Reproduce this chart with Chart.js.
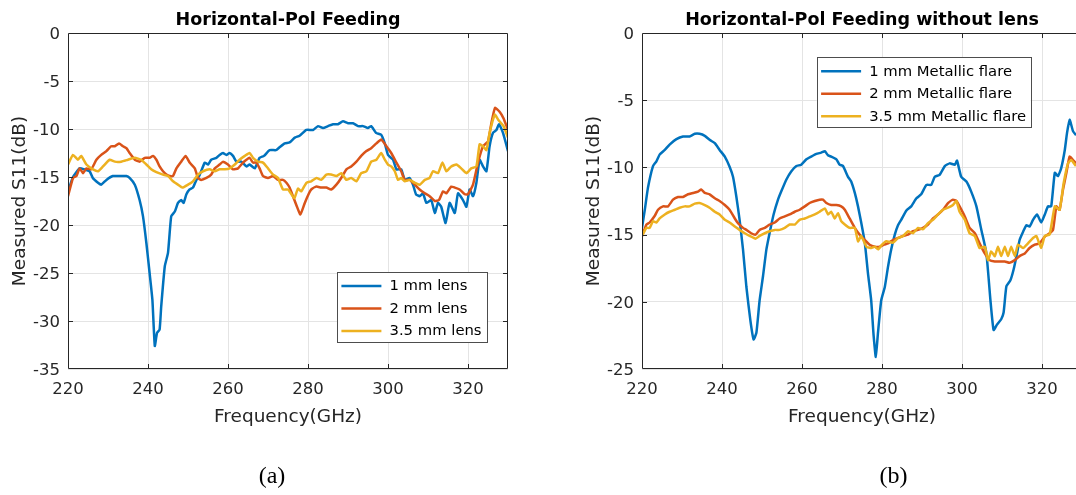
<!DOCTYPE html>
<html><head><meta charset="utf-8">
<script src="https://cdn.jsdelivr.net/npm/chart.js@4.4.0/dist/chart.umd.min.js"></script>
<style>
html,body{margin:0;padding:0;background:#fff;overflow:hidden;width:1076px;height:495px;position:relative;}
canvas{position:absolute;top:0;}
#c1{left:0;} #c2{left:540px;}
</style></head><body>
<canvas id="c1" width="540" height="495"></canvas>
<canvas id="c2" width="560" height="495"></canvas>
<script>
// ---------- tick labels ----------
const freqTicks = [220, 240, 260, 280, 300, 320];
const s11TicksA = [0, -5, -10, -15, -20, -25, -30, -35];
const s11TicksB = [0, -5, -10, -15, -20, -25];

// ---------- legends / titles ----------
const legendA = ['1 mm lens', '2 mm lens', '3.5 mm lens'];
const legendB = ['1 mm Metallic flare', '2 mm Metallic flare', '3.5 mm Metallic flare'];

// ---------- (a) Horizontal-Pol Feeding ----------
const fA1 = [220,221.25,222.9,224,225.4,226.2,227.5,228.3,229.6,231.2,232.9,234.6,235.4,236.7,237.9,238.75,239.6,240.4,241.1,241.7,242.25,242.9,243.3,244.2,245,245.8,246.7,247.5,248.3,248.9,249.6,250.4,251.25,252.1,252.9,254.2,255,255.8,257.1,257.9,258.75,259.6,260.4,261.25,262.1,263.3,264.6,265.4,266.7,267.9,269,270.4,272,272.9,274.2,275.4,276.7,277.9,279.6,281.25,282.5,283.75,285,286.25,287.5,288.75,290,291.25,292.5,293.75,295,295.8,297,298.3,299.2,300,301.25,302.1,303.3,304.2,305.4,306.25,307,307.9,308.75,309.6,310.8,311.7,312.5,313.3,314.4,315.4,316.7,317.5,318.75,319.6,320.4,321.25,322.1,322.9,323.75,324.6,325.4,326.25,327.1,327.75,328.75,330];
const sA1 = [-16.5,-15,-14.1,-14.2,-14.4,-15.1,-15.6,-15.8,-15.3,-14.9,-14.9,-14.9,-15.1,-15.8,-17.4,-19.1,-21.9,-25,-27.8,-32.6,-31.25,-30.9,-28.5,-24.3,-22.9,-19.1,-18.6,-17.7,-17.4,-17.7,-16.8,-16.3,-16.1,-15.3,-14.8,-13.5,-13.7,-13.2,-13,-12.7,-12.5,-12.7,-12.5,-12.8,-13.4,-13.4,-13.9,-13.7,-14.1,-13.0,-12.8,-12.2,-12.2,-11.9,-11.5,-11.4,-10.9,-10.7,-10.1,-10.1,-9.7,-9.9,-9.7,-9.5,-9.5,-9.2,-9.4,-9.4,-9.7,-9.7,-9.9,-9.7,-10.4,-10.6,-11.5,-12.7,-13.2,-14.2,-14.2,-15.3,-15.1,-15.8,-16.8,-17,-16.7,-17.7,-17.4,-18.75,-17.7,-18.1,-19.8,-17.7,-18.75,-16.7,-17.4,-18.1,-16.3,-17,-15.6,-13.2,-13.9,-14.4,-11.8,-10.4,-10.1,-9.5,-10.4,-12.3];

const fA2 = [220,221.25,222.1,222.9,223.75,224.6,225.8,227.1,228.3,229.6,230.8,231.7,232.75,233.75,234.6,235.4,236.7,237.9,239.2,240.4,241.25,242.1,242.9,243.75,244.6,245.4,246.25,247.1,248.3,249.4,250.4,251.7,252.5,253.3,254.6,255.8,256.7,257.9,258.75,260,261.25,262.5,263.75,264.6,265.4,266.25,267.1,267.9,268.75,270,271.25,272.5,273.75,274.6,275.4,276.25,277.25,278.1,279.2,280.25,280.8,282.1,283.3,284.6,285.8,287.1,288.3,289.6,290.8,292.1,293.3,294.6,295.8,297.1,298.3,299.6,300.8,302.1,303.3,304.2,305.4,306.7,307.9,309.2,310.4,311.7,312.75,313.75,314.6,315.8,316.7,317.9,319.2,320,321.25,322.5,323.75,325,325.8,326.75,327.9,328.9,330];
const sA2 = [-17,-15.1,-14.9,-14.1,-14.6,-14.1,-14.2,-13.2,-12.7,-12.3,-11.8,-11.8,-11.5,-11.8,-12,-12.5,-13.2,-13.4,-13,-13,-12.8,-13.2,-13.9,-14.4,-14.75,-14.9,-14.9,-14.1,-13.4,-12.8,-13.5,-14.1,-15.1,-15.3,-15.1,-14.75,-14.1,-13.7,-13.4,-13.7,-14.2,-14.1,-13.5,-13.2,-13,-13.5,-13.5,-14.1,-14.9,-15.1,-14.9,-15.3,-15.3,-15.6,-16.1,-17,-18.1,-18.9,-17.7,-16.7,-16.3,-16,-16.1,-16.1,-16.3,-15.8,-15.1,-14.2,-13.9,-13.4,-12.8,-12.3,-12,-11.5,-11.1,-11.8,-12.5,-13.5,-14.4,-15.3,-15.3,-15.8,-16.3,-16.7,-17,-17.5,-17.4,-16.5,-16.7,-16,-16.1,-16.3,-16.8,-16.8,-15.8,-13.5,-11.8,-11.3,-9.5,-7.8,-8.2,-8.9,-10.1];

const fA3 = [220,221.25,222.5,223.3,224.6,226.25,227.5,228.75,230.4,231.7,233.3,235,236.7,238.3,239.6,240.8,242.1,243.75,245,246.25,247.5,248.6,250,251.25,252.5,253.75,255.4,256.7,257.9,259.2,260.4,261.7,262.9,264.2,265.4,266.25,267.5,268.75,270,271.25,272.5,273.75,275,276,276.6,277.5,278.3,279.6,280.8,282.1,283.3,284.6,285.8,287.1,288.3,289.6,290.8,292.1,293.3,294.6,295.8,297.1,298.3,299.2,300,300.8,301.7,302.5,303.3,304.2,305.4,306.7,307.9,309.2,310.4,311.25,312.5,313.6,314.6,315.8,317.1,318.3,319.6,320.8,322.1,322.9,323.75,324.6,325.4,326.7,327.5,328.3,328.9,330];
const sA3 = [-13.7,-12.7,-13.2,-12.8,-13.7,-14.2,-14.4,-13.9,-13.2,-13.4,-13.4,-13.2,-13,-13.2,-13.7,-14.2,-14.5,-14.75,-14.9,-15.45,-15.8,-16.1,-15.8,-15.45,-14.75,-14.4,-14.2,-14.4,-14.2,-14.2,-14.1,-13.7,-13.2,-12.8,-12.5,-13,-13.4,-13.5,-14.1,-14.75,-15.1,-16.3,-16.3,-16.9,-17.2,-16.2,-16.5,-15.6,-15.45,-15.1,-15.3,-14.75,-14.75,-14.9,-14.6,-15.3,-15.1,-15.45,-14.6,-14.4,-13.4,-13.2,-12.5,-13.2,-13.7,-13.9,-14.4,-15.3,-15.1,-15.45,-15.3,-15.6,-15.8,-15.3,-15.1,-14.4,-14.6,-13.5,-14.4,-13.9,-13.7,-14.1,-14.6,-14.1,-13.9,-11.6,-11.8,-12.2,-10.4,-8.5,-9,-9.4,-9.7,-10.9];

// ---------- (b) Horizontal-Pol Feeding without lens ----------
const fB1 = [220,220.7,221.5,222.75,223.6,224.4,225.7,226.9,228.6,230.25,231.9,233.2,234.4,235.7,236.9,238.2,239.4,240.7,241.9,242.75,243.6,244.4,245.25,246.1,247.1,247.9,248.6,249.4,250.25,251.1,252.1,252.9,254,254.8,256.1,257.3,258.6,259.8,261.1,262.3,263.6,264.8,265.7,266.5,267.3,268.6,269.4,270.25,271.5,272.3,273.2,274,274.8,275.7,276.5,277.3,277.9,278.45,279,279.8,280.7,281.5,282.3,283.2,284,284.8,286.1,287.3,288.6,289.8,291.1,292.3,293.2,294.4,295.7,296.9,298.2,298.75,299.8,301.1,302.3,303.6,304.8,306.1,307.1,307.9,308.75,309.8,310.4,311.1,312.1,312.9,313.75,314.4,315.25,316.1,316.9,317.75,318.75,319.8,320.7,321.5,322.3,323.2,324,324.8,325.7,326.25,326.9,327.75,328.5];
const sB1 = [-14.5,-13.15,-11.5,-9.9,-9.55,-9.05,-8.7,-8.3,-7.9,-7.7,-7.7,-7.5,-7.5,-7.65,-7.95,-8.2,-8.7,-9.2,-9.95,-10.7,-12.2,-13.9,-16.1,-18.9,-21.4,-22.8,-22.3,-19.9,-18.1,-16.1,-14.6,-13.5,-12.4,-11.8,-10.9,-10.3,-9.9,-9.8,-9.4,-9.2,-9,-8.9,-8.8,-9.1,-9.2,-9.4,-9.8,-9.9,-10.7,-11.05,-11.9,-12.9,-14.1,-15.6,-17.9,-19.9,-22.5,-24.1,-22.3,-19.9,-18.9,-17.4,-16.1,-15,-14.3,-13.9,-13.2,-12.9,-12.3,-12,-11.3,-11.3,-10.7,-10.55,-9.9,-9.7,-9.8,-9.5,-10.7,-11.05,-11.8,-12.9,-14.6,-16.4,-19.85,-22.1,-21.7,-21.3,-20.8,-18.85,-18.4,-17.6,-16.4,-15.4,-14.8,-14.3,-14.4,-13.9,-13.5,-14.1,-13.5,-12.9,-12.9,-10.4,-10.65,-10.05,-8.7,-7.45,-6.45,-7.3,-7.6];

const fB2 = [220,221.1,221.9,223.2,224,225.25,226.5,227.75,229,230.25,231.5,232.75,234,234.8,235.7,236.9,238.2,239.4,240.7,241.9,243.2,244,245.25,246.1,247.3,248.4,249.4,250.7,251.9,253.2,254.4,255.7,256.9,258.2,259.4,260.7,261.9,263.2,264.4,265.25,266.1,267.3,268.6,269.8,270.7,271.9,273.2,274.4,275.7,276.9,278.2,279.4,280.5,281.5,282.75,284,285.25,286.5,287.75,289,290.25,291.5,292.75,294,295.25,296.5,297.75,298.6,299.4,300.7,301.9,303.2,304.4,305.7,306.9,308.2,309.4,310.7,311.9,313.2,314.4,315.7,316.9,318.2,319.4,320.7,321.9,322.75,323.6,324.4,325.25,326.1,326.9,327.75,328.5];
const sB2 = [-15.1,-14.25,-14.1,-13.6,-13.15,-12.9,-12.9,-12.4,-12.2,-12.2,-12,-11.9,-11.8,-11.65,-11.9,-12,-12.3,-12.5,-12.8,-13.15,-13.8,-14.15,-14.5,-14.65,-14.9,-15,-14.65,-14.5,-14.25,-14.1,-13.8,-13.65,-13.5,-13.3,-13.15,-12.9,-12.65,-12.5,-12.4,-12.4,-12.65,-12.8,-12.8,-12.9,-13.15,-13.8,-14.5,-15,-15.4,-15.75,-15.9,-15.9,-15.75,-15.65,-15.4,-15.25,-15.1,-15,-14.75,-14.65,-14.5,-14.25,-13.8,-13.5,-13.15,-12.65,-12.4,-12.5,-12.9,-13.65,-14.5,-14.9,-15.65,-16.4,-16.9,-17,-17,-17,-17.1,-16.9,-16.6,-16.4,-16,-15.75,-15.65,-15.15,-14.9,-14.65,-12.9,-13.15,-11.65,-10.4,-9.2,-9.45,-9.7];

const fB3 = [220,221.1,221.9,222.75,223.6,224.4,225.7,226.9,228.2,229.4,230.7,231.9,233.2,234.4,235.7,236.9,238.2,239.4,240.7,241.9,243.2,244.4,245.7,246.9,248.4,249.4,250.7,251.9,253.2,254.4,255.7,256.9,258.2,259.4,260.7,261.9,263.2,264.4,265.7,266.5,267.3,268.2,269,269.8,270.7,271.9,273.2,274,274.8,276.1,277.3,278.2,279,280,281.1,282.75,284,285.25,286.5,287.75,289,290.25,291.5,292.75,294,295.25,296.5,297.75,298.6,299.4,300.7,301.9,303.2,304.4,305.7,306.5,307.3,308.2,309,309.8,310.7,311.5,312.3,313.2,314,315.25,316.5,317.75,318.6,319.8,320.7,321.9,323.2,324.4,325.4,326.5,327.3,328.5];
const sB3 = [-15.1,-14.5,-14.5,-14,-14.1,-13.8,-13.5,-13.3,-13.15,-13,-12.9,-12.9,-12.7,-12.65,-12.8,-13,-13.3,-13.5,-13.9,-14.1,-14.4,-14.65,-14.9,-15.1,-15.3,-15.1,-14.9,-14.75,-14.65,-14.65,-14.5,-14.25,-14.25,-13.9,-13.8,-13.65,-13.5,-13.3,-13.05,-13.5,-13.3,-13.8,-13.4,-14,-14.25,-14.5,-14.5,-15.5,-15.1,-15.9,-16,-15.9,-16.1,-15.75,-15.5,-15.6,-15.25,-15.1,-14.75,-14.9,-14.5,-14.6,-14.15,-13.9,-13.5,-13.15,-13,-12.8,-12.5,-13.3,-13.9,-14.9,-15.1,-16,-15.9,-16.9,-16.25,-16.6,-15.9,-16.6,-15.9,-16.6,-15.9,-16.6,-15.75,-16,-15.65,-15.25,-15.1,-16,-15.1,-15,-12.9,-13.15,-11.2,-9.7,-9.45,-9.9];

// ---------- styling ----------
const lineColors = ['#0072BD', '#D95319', '#EDB120'];
const SANS = '"DejaVu Sans", "Liberation Sans", Arial, sans-serif';
const SERIF = '"Liberation Serif", "Times New Roman", serif';

function pairs(f, v) { return f.map((x, i) => ({ x: x, y: v[i] })); }

const decor = {
  id: 'decor',
  afterDraw(chart, args, o) {
    const ctx = chart.ctx, a = chart.chartArea;
    const xs = chart.scales.x, ys = chart.scales.y;
    const L = a.left, R = a.right, T = a.top, B = a.bottom;
    ctx.save();
    // axes box + inward ticks
    ctx.strokeStyle = '#262626';
    ctx.lineWidth = 1;
    ctx.beginPath();
    ctx.rect(L + 0.5, T + 0.5, R - L - 1, B - T - 1);
    const tk = 5;
    freqTicks.forEach(v => {
      const px = Math.round(xs.getPixelForValue(v)) + 0.5;
      if (px <= L + 1 || px >= R - 1) return;
      ctx.moveTo(px, B); ctx.lineTo(px, B - tk);
      ctx.moveTo(px, T); ctx.lineTo(px, T + tk);
    });
    o.yTicks.forEach(v => {
      const py = Math.round(ys.getPixelForValue(v)) + 0.5;
      if (py <= T + 1 || py >= B - 1) return;
      ctx.moveTo(L, py); ctx.lineTo(L + tk, py);
      ctx.moveTo(R, py); ctx.lineTo(R - tk, py);
    });
    ctx.stroke();
    // title
    const cx = (L + R) / 2;
    ctx.fillStyle = '#000';
    ctx.textAlign = 'center';
    ctx.textBaseline = 'alphabetic';
    ctx.font = 'bold 17.5px ' + SANS;
    ctx.fillText(o.title, cx, 25);
    // x label
    ctx.fillStyle = '#262626';
    ctx.font = '18.5px ' + SANS;
    ctx.fillText('Frequency(GHz)', cx, 421.5);
    // y label
    ctx.save();
    ctx.translate(L - 43.3, (T + B) / 2);
    ctx.rotate(-Math.PI / 2);
    ctx.fillText('Measured S11(dB)', 0, 0);
    ctx.restore();
    // sub caption
    ctx.fillStyle = '#000';
    ctx.font = '24px ' + SERIF;
    ctx.fillText(o.caption, o.captionX, 483);
    // legend
    const lg = o.legend;
    ctx.fillStyle = '#fff';
    ctx.fillRect(lg.x, lg.y, lg.w, lg.h);
    ctx.strokeStyle = '#4d4d4d';
    ctx.strokeRect(Math.round(lg.x) + 0.5, Math.round(lg.y) + 0.5, Math.round(lg.w), Math.round(lg.h));
    ctx.font = '14.8px ' + SANS;
    ctx.textAlign = 'left';
    ctx.textBaseline = 'middle';
    chart.data.datasets.forEach((ds, i) => {
      const ry = lg.y + 14 + i * 22.5;
      ctx.strokeStyle = ds.borderColor;
      ctx.lineWidth = 2.5;
      ctx.beginPath();
      ctx.moveTo(lg.x + 4.4, ry); ctx.lineTo(lg.x + 44.4, ry);
      ctx.stroke();
      ctx.fillStyle = '#000';
      ctx.fillText(ds.label, lg.x + 52.5, ry + 0.5);
    });
    ctx.restore();
  }
};

function makeChart(id, cfg) {
  const tickFont = { family: SANS, size: 16.5 };
  return new Chart(document.getElementById(id), {
    type: 'line',
    data: {
      datasets: cfg.series.map((s, i) => ({
        label: cfg.labels[i],
        data: pairs(s[0], s[1]),
        borderColor: lineColors[i],
        backgroundColor: lineColors[i],
        borderWidth: 2.5,
        pointRadius: 0,
        tension: 0.15,
        fill: false,
        order: 3 - i
      }))
    },
    options: {
      responsive: false,
      animation: false,
      devicePixelRatio: 1,
      events: [],
      layout: { padding: { left: 0, top: 33, right: cfg.padRight, bottom: 96 } },
      plugins: {
        legend: { display: false },
        title: { display: false },
        tooltip: { enabled: false },
        decor: cfg.decor
      },
      scales: {
        x: {
          type: 'linear', min: 220, max: 330,
          afterBuildTicks: s => { s.ticks = freqTicks.map(v => ({ value: v })); },
          afterFit: s => { s.height = 30; },
          grid: { color: '#e4e4e4', lineWidth: 1, drawTicks: false },
          border: { display: false },
          ticks: { font: tickFont, color: '#262626', padding: 11, maxRotation: 0, callback: v => String(v) }
        },
        y: {
          type: 'linear', min: cfg.ymin, max: 0,
          afterBuildTicks: s => { s.ticks = cfg.decor.yTicks.map(v => ({ value: v })); },
          afterFit: s => { s.width = cfg.yWidth; },
          grid: { color: '#e4e4e4', lineWidth: 1, drawTicks: false },
          border: { display: false },
          ticks: { font: tickFont, color: '#262626', padding: 8, labelOffset: 1.5, callback: v => String(v) }
        }
      }
    },
    plugins: [decor]
  });
}

makeChart('c1', {
  series: [[fA1, sA1], [fA2, sA2], [fA3, sA3]],
  labels: legendA,
  ymin: -35, yWidth: 68, padRight: 32,
  decor: {
    title: 'Horizontal-Pol Feeding', yTicks: s11TicksA,
    caption: '(a)', captionX: 272,
    legend: { x: 337, y: 272, w: 150, h: 70 }
  }
});

makeChart('c2', {
  series: [[fB1, sB1], [fB2, sB2], [fB3, sB3]],
  labels: legendB,
  ymin: -25, yWidth: 102, padRight: 18,
  decor: {
    title: 'Horizontal-Pol Feeding without lens', yTicks: s11TicksB,
    caption: '(b)', captionX: 353.6,
    legend: { x: 276.7, y: 57.3, w: 214, h: 70.4 }
  }
});
</script>
</body></html>
